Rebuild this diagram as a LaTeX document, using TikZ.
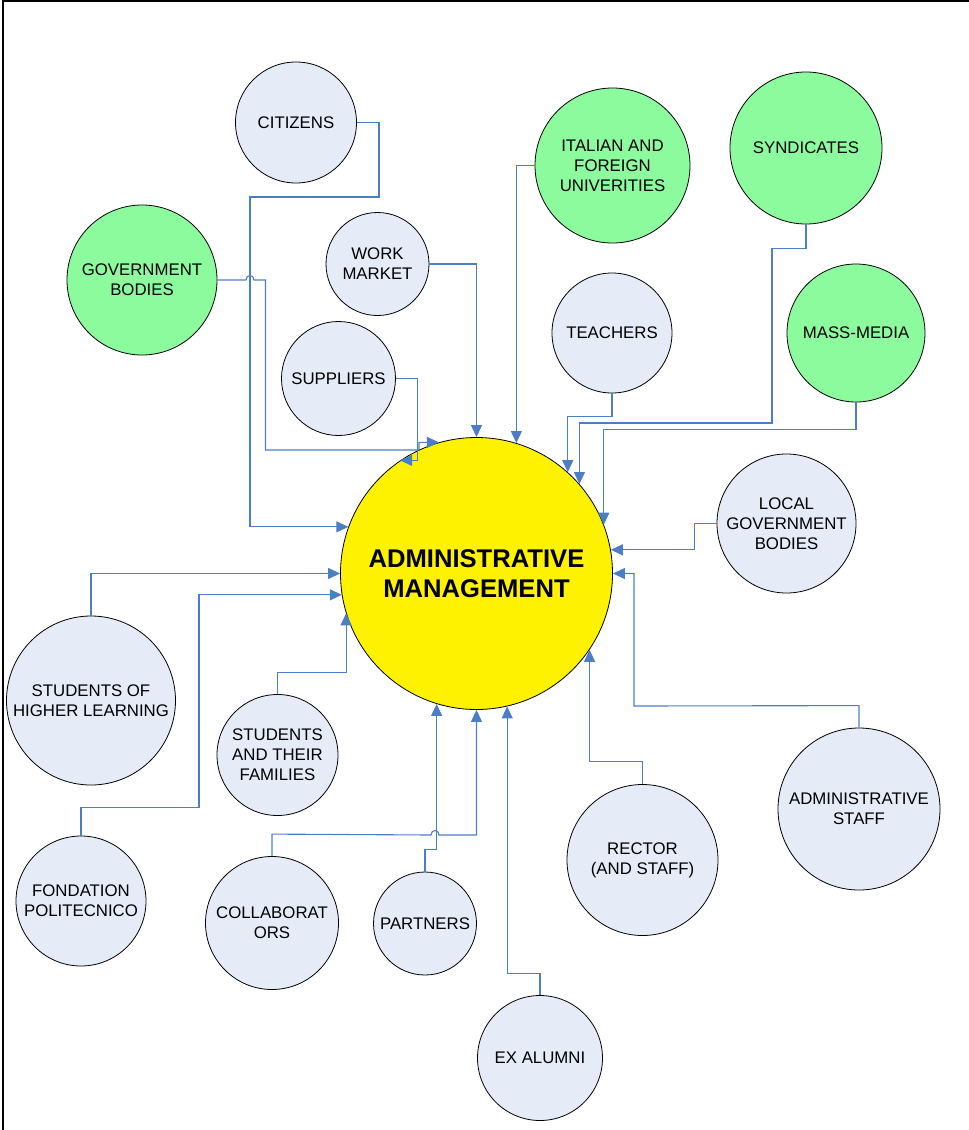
\documentclass[tikz,border=0pt]{standalone}
\usepackage{fontspec}
\setmainfont{Liberation Sans}
\usetikzlibrary{arrows.meta}
\definecolor{partyblue}{RGB}{230,236,247}
\definecolor{partygreen}{RGB}{140,251,158}
\definecolor{linkblue}{RGB}{76,126,200}
\newcommand{\partyfont}{\fontsize{16.8}{20}\selectfont}
\newcommand{\adminfont}{\fontsize{25.6}{30}\selectfont\bfseries}
\begin{document}
\begin{tikzpicture}[x=1pt,y=-1pt,
    party/.style={circle,draw=black,line width=0.8pt,inner sep=0pt,align=center,font=\partyfont},
    link/.style={draw=linkblue,line width=1.1pt,-{Triangle[length=12pt,width=11pt]}}]

          \useasboundingbox (0,0) rectangle (969,1130);
          \draw[line width=2.3pt] (2.8,1130) -- (2.8,1) -- (969,1);

          \node[party,fill=yellow,minimum size=272,font=\adminfont] (admin) at (476.5,573.5) {ADMINISTRATIVE\\MANAGEMENT};

          \foreach \nm/\x/\y/\r/\c/\t in {
              cit/296/122.5/60.5/partyblue/{CITIZENS},
              gov/142/280/75/partygreen/{GOVERNMENT\\BODIES},
              work/377.5/264/51.5/partyblue/{WORK\\MARKET},
              supp/338.5/378.5/57/partyblue/{SUPPLIERS},
              univ/612.5/165.5/77.5/partygreen/{ITALIAN AND\\FOREIGN\\UNIVERITIES},
              synd/806/148/76/partygreen/{SYNDICATES},
              teach/612/333/60/partyblue/{TEACHERS},
              media/856/333/69/partygreen/{MASS-MEDIA},
              local/786.5/523.5/69.5/partyblue/{LOCAL\\GOVERNMENT\\BODIES},
              shl/91/700.5/84.5/partyblue/{STUDENTS OF\\HIGHER LEARNING},
              fam/277.5/755/60.5/partyblue/{STUDENTS\\AND THEIR\\FAMILIES},
              fond/81/901/65/partyblue/{FONDATION\\POLITECNICO},
              coll/272/923/66.5/partyblue/{COLLABORAT\\ORS},
              part/425/923.5/51.5/partyblue/{PARTNERS},
              alum/540/1058/62.5/partyblue/{EX ALUMNI},
              rect/642.5/860/75.5/partyblue/{RECTOR\\(AND STAFF)},
              staff/859/809/81/partyblue/{ADMINISTRATIVE\\STAFF}}
          {
            \node[party,fill=\c,minimum size=2*\r] (\nm) at (\x,\y) {\t};
          }

          \draw[link] (cit.east) -| (379,197) -- (250,197) |- (admin.160);
          \draw[link] (gov.east) -- (246,280) .. controls (246,274) and (254,274) .. (254,280)
            -- (265.5,280) |- (419,450) |- (admin.106.4);
          \draw[link] (work.east) -| (admin.north);
          \draw[link] (supp.east) -- ++(22,0) |- (admin.124.9);
          \draw[link] (univ.west) -| (admin.73.5);
          \draw[link] (synd.south) -- ++(0,24) -| (772,423) -| (admin.41);
          \draw[link] (teach.south) -- ++(0,23) -| (admin.48.7);
          \draw[link] (media.south) -- ++(0,27) -| (admin.21);
          \draw[link] (local.west) -- ++(-22,0) |- (admin.10.5);
          \draw[link] (staff.north) -- ++(0,-22) -- (634,706) |- (admin.0);
          \draw[link] (rect.north) -- ++(0,-23) -| (admin.-34.8);
          \draw[link] (alum.north) -- ++(0,-22) -| (admin.-77.8);
          \draw[link] (part.north) -- ++(0,-22) -| (admin.-107.4);
          \draw[link] (coll.north) -- ++(0,-22) -- (431,835) .. controls (431,829) and (439,829) .. (439,835)
            -| (admin.south);
          \draw[link] (fam.north) -- ++(0,-22) -| (admin.197.5);
          \draw[link] (shl.north) |- (admin.180);
          \draw[link] (fond.north) -- ++(0,-28.5) -| (199,700) |- (admin.189);

\end{tikzpicture}
\end{document}
